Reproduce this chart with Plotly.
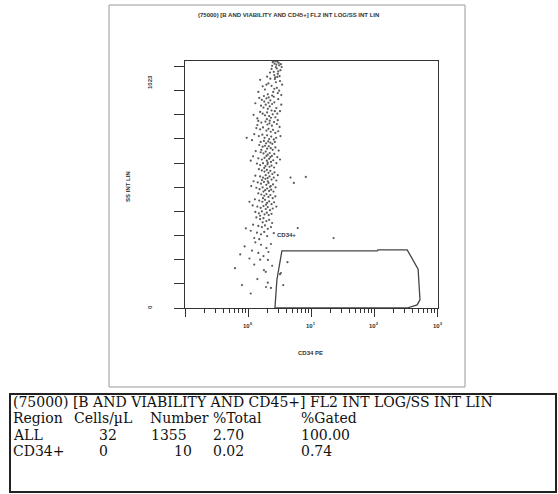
import math
import plotly.graph_objects as go

W, H = 558, 494

# ---------------- data ----------------
title_text = "(75000) [B AND VIABILITY AND CD45+] FL2 INT LOG/SS INT LIN"
x_title = "CD34 PE"
y_title = "SS INT LIN"
y_tick_low, y_tick_high = "0", "1023"
x_major_ticks = [1, 10, 100, 1000]
x_major_labels = ["10<sup>0</sup>", "10<sup>1</sup>", "10<sup>2</sup>", "10<sup>3</sup>"]
y_ticks = [0, 100, 200, 300, 400, 500, 600, 700, 800, 900, 1000]

# events: CD34 PE (x, log) and SS INT LIN (y)
events_x = [
    2.45, 2.62, 2.90, 3.10, 2.75, 2.35, 3.25, 2.55, 2.95, 2.70, 3.05, 2.40, 2.85, 3.30, 2.60, 2.22, 3.15, 2.80, 2.50, 3.00, 2.68, 3.40,
    1.55, 2.10, 2.65, 3.20, 2.35, 2.85, 1.85, 3.45, 2.50, 2.05, 2.95, 1.70, 2.75, 3.10, 2.25, 1.45, 2.60, 3.35, 2.00, 2.40, 2.90, 1.95,
    1.50, 1.65, 1.80, 1.95, 2.10, 2.25, 2.40, 1.60, 1.75, 1.90, 2.05, 2.20, 2.35, 1.55, 1.70, 1.85, 2.00, 2.15, 2.30, 2.45, 2.60, 2.80,
    3.00, 3.20, 1.30, 1.22, 2.70, 2.90, 3.35, 1.40, 2.55, 1.98, 2.12, 1.78, 2.65,
    1.45, 1.62, 1.88, 2.02, 2.18, 2.38, 2.58, 2.85, 3.15, 1.35, 1.55, 1.72, 1.95, 2.10, 2.28, 2.48, 2.70, 3.00, 1.25, 1.48, 1.68, 1.82,
    2.00, 2.15, 2.32, 2.55, 2.78, 3.25, 1.15, 1.58, 1.78, 1.92, 2.08, 2.25, 2.42, 2.65, 0.95, 1.40, 2.95, 2.20,
    1.50, 1.70, 1.85, 2.00, 2.12, 2.28, 2.45, 2.70, 3.05, 1.32, 1.58, 1.75, 1.90, 2.05, 2.20, 2.38, 2.60, 2.90, 1.20, 1.45, 1.65, 1.82,
    1.98, 2.15, 2.30, 2.50, 2.80, 3.20, 1.38, 1.55, 1.72, 1.88, 2.02, 2.18, 2.35, 2.58, 1.10, 1.62, 1.95, 2.25, 2.05, 1.80,
    1.48, 1.65, 1.82, 1.98, 2.10, 2.25, 2.42, 2.62, 2.95, 1.30, 1.55, 1.72, 1.90, 2.04, 2.18, 2.35, 2.55, 2.80, 1.22, 1.42, 1.60, 1.78,
    1.94, 2.10, 2.28, 2.48, 2.72, 1.35, 1.52, 1.70, 1.86, 2.00, 2.15, 2.32, 2.52, 1.12, 1.65, 1.88, 2.05, 2.22, 1.75, 4.70,
    1.45, 1.62, 1.80, 1.95, 2.10, 2.25, 2.45, 2.70, 1.28, 1.50, 1.68, 1.85, 2.00, 2.15, 2.35, 2.58, 1.18, 1.40, 1.58, 1.75, 1.90, 2.05,
    2.22, 2.45, 1.30, 1.48, 1.65, 1.82, 1.98, 2.12, 2.35, 1.05, 1.72, 1.92, 1.55, 2.80,
    1.35, 1.55, 1.75, 1.95, 2.15, 2.40, 1.20, 1.45, 1.65, 1.85, 2.05, 2.30, 1.10, 1.38, 1.60, 1.80, 2.00, 2.55, 1.25, 1.50, 0.92, 1.70,
    1.30, 1.60, 0.88, 1.95, 1.15, 1.45, 2.30, 1.75, 1.05, 2.10, 1.55, 0.75,
    0.62, 1.25, 1.90, 1.40, 0.80, 2.05, 3.20, 3.60, 1.10, 2.40, 4.20, 2.06, 1.78, 3.31, 1.92, 2.30,
    8.2, 5.3, 22.6, 6.1,
]
events_y = [
    1018, 1012, 1020, 1005, 998, 990, 985, 978, 970, 1022, 1015, 1003, 992, 1010, 965, 975, 960, 1008, 1023, 980, 955, 998,
    945, 930, 948, 940, 920, 912, 905, 925, 895, 885, 890, 918, 935, 900, 950, 895, 908, 882, 958, 880, 957, 925,
    870, 862, 855, 868, 850, 860, 845, 838, 830, 842, 825, 835, 818, 812, 805, 798, 810, 795, 788, 802, 852, 828,
    865, 815, 848, 800, 790, 805, 842, 785, 875, 782, 872, 878, 815,
    775, 768, 772, 760, 765, 755, 770, 762, 750, 745, 740, 748, 735, 742, 730, 738, 725, 732, 720, 712, 718, 705,
    715, 700, 710, 698, 705, 712, 695, 688, 692, 682, 690, 685, 680, 688, 705, 758, 778, 776,
    675, 668, 672, 660, 670, 662, 655, 665, 652, 650, 645, 640, 648, 635, 642, 630, 638, 625, 628, 620, 615, 622,
    610, 618, 605, 612, 600, 615, 598, 592, 600, 588, 595, 585, 590, 582, 610, 655, 630, 625, 602, 580,
    575, 570, 565, 572, 560, 568, 555, 562, 550, 548, 545, 540, 550, 538, 545, 532, 540, 528, 525, 520, 515, 522,
    510, 518, 505, 512, 500, 498, 492, 500, 488, 495, 485, 490, 482, 505, 530, 535, 525, 502, 482, 540,
    475, 470, 465, 472, 460, 468, 455, 462, 450, 445, 440, 448, 435, 442, 430, 438, 425, 420, 415, 422, 410, 418,
    405, 412, 398, 392, 400, 388, 395, 385, 390, 440, 455, 428, 382, 420,
    375, 368, 372, 360, 365, 352, 345, 340, 335, 342, 328, 335, 320, 312, 305, 315, 298, 310, 290, 285, 330, 355,
    272, 262, 255, 248, 238, 228, 265, 215, 205, 232, 200, 222,
    165, 180, 150, 120, 95, 105, 140, 95, 60, 175, 190, 199, 157, 145, 87, 83,
    543, 518, 290, 331,
]

# CD34+ gate polygon vertices
gate_x = [2.66, 2.86, 3.43, 111, 114, 331, 493, 528, 475, 331, 2.66]
gate_y = [0, 118, 237, 237, 241, 241, 161, 34, 13, 0, 0]
gate_label = "CD34+"
gate_label_pos = (4.1, 302)

# statistics table
table_header = "(75000) [B AND VIABILITY AND CD45+] FL2 INT LOG/SS INT LIN"
col_names = ["Region", "Cells/µL", "Number", "%Total", "%Gated"]
regions = ["ALL", "CD34+"]
cells_per_ul = ["32", "0"]
numbers = ["1355", "10"]
pct_total = ["2.70", "0.02"]
pct_gated = ["100.00", "0.74"]

# ---------------- figure ----------------
def px_x(p):
    return p / W

def px_y(p):
    return 1 - p / H

fig = go.Figure()
fig.add_trace(go.Scatter(
    x=events_x, y=events_y, mode="markers",
    marker=dict(size=2.2, color="#5a5a5a", line=dict(width=0)),
    hoverinfo="skip", showlegend=False,
))
fig.add_trace(go.Scatter(
    x=gate_x, y=gate_y, mode="lines",
    line=dict(color="#444444", width=1.3),
    hoverinfo="skip", showlegend=False,
))

minor_vals = []
for d in [0.1, 1, 10, 100]:
    for m in range(2, 10):
        minor_vals.append(d * m)

fig.update_xaxes(
    type="log", range=[-1, 3.008],
    domain=[px_x(185), px_x(438)],
    showline=True, linecolor="#333333", linewidth=1, mirror=True,
    ticks="outside", ticklen=8, tickcolor="#333333", tickwidth=1,
    tickvals=[0.1] + x_major_ticks, showticklabels=False,
    minor=dict(ticks="outside", ticklen=4, tickcolor="#333333", tickwidth=1,
               tickmode="array", tickvals=minor_vals, showgrid=False),
    showgrid=False, zeroline=False,
)
fig.update_yaxes(
    range=[0, 1023],
    domain=[px_y(308), px_y(61)],
    showline=True, linecolor="#333333", linewidth=1, mirror=True,
    ticks="outside", ticklen=10, tickcolor="#333333", tickwidth=1,
    tickvals=y_ticks, showticklabels=False,
    showgrid=False, zeroline=False,
)

small = dict(family="Liberation Sans, Arial", size=6, color="#333333")
ann = []
ann.append(dict(text="<b>" + title_text + "</b>", x=px_x(288), y=px_y(15), xref="paper", yref="paper",
                showarrow=False, font=small, xanchor="center", yanchor="middle"))
ann.append(dict(text="<b>" + y_title + "</b>", x=px_x(128), y=px_y(187), xref="paper", yref="paper",
                showarrow=False, font=small, textangle=-90, xanchor="center", yanchor="middle"))
ann.append(dict(text="<b>" + y_tick_high + "</b>", x=px_x(150), y=px_y(82), xref="paper", yref="paper",
                showarrow=False, font=small, textangle=-90, xanchor="center", yanchor="middle"))
ann.append(dict(text="<b>" + y_tick_low + "</b>", x=px_x(150), y=px_y(307), xref="paper", yref="paper",
                showarrow=False, font=small, textangle=-90, xanchor="center", yanchor="middle"))
ann.append(dict(text="<b>" + x_title + "</b>", x=px_x(310), y=px_y(353), xref="paper", yref="paper",
                showarrow=False, font=small, xanchor="center", yanchor="middle"))
for v, lab in zip(x_major_ticks, x_major_labels):
    ann.append(dict(text="<b>" + lab + "</b>", x=math.log10(v), y=px_y(325), xref="x", yref="paper",
                    showarrow=False, font=dict(family="Liberation Sans, Arial", size=6, color="#333333"),
                    xanchor="center", yanchor="middle"))
ann.append(dict(text="<b>" + gate_label + "</b>", x=math.log10(gate_label_pos[0]), y=gate_label_pos[1],
                xref="x", yref="y", showarrow=False, font=small, xanchor="center", yanchor="middle"))

serif = dict(family="DejaVu Serif, serif", size=14, color="#111111")
rows_y = [401.5, 418, 434.5, 451]

def tline(text, x, y, anchor="left"):
    ann.append(dict(text=text, x=px_x(x), y=px_y(y), xref="paper", yref="paper", showarrow=False,
                    font=serif, xanchor=anchor, yanchor="middle", borderpad=0))

tline(table_header, 12, rows_y[0])
for name, cx in zip(col_names, [12, 73, 149, 212, 300]):
    tline(name, cx, rows_y[1])
for i in range(2):
    yy = rows_y[2 + i]
    tline(regions[i], 12, yy)
    tline(cells_per_ul[i], [108, 103.5][i], yy, "center")
    tline(numbers[i], [169, 183][i], yy, "center")
    tline(pct_total[i], 212, yy)
    tline(pct_gated[i], 300, yy)

shapes = [
    dict(type="rect", xref="paper", yref="paper", x0=px_x(109), x1=px_x(465), y0=px_y(5), y1=px_y(387),
         line=dict(color="#9a9a9a", width=1)),
    dict(type="rect", xref="paper", yref="paper", x0=px_x(10), x1=px_x(556), y0=px_y(394), y1=px_y(492),
         line=dict(color="#222222", width=2)),
]

fig.update_layout(
    width=W, height=H, margin=dict(l=0, r=0, t=0, b=0),
    paper_bgcolor="white", plot_bgcolor="white",
    annotations=ann, shapes=shapes, showlegend=False,
)

fig.write_html(
    "out.html",
    config={"displayModeBar": False},
    post_script="document.body.style.margin='0';document.body.style.padding='0';document.body.style.overflow='hidden';",
)
